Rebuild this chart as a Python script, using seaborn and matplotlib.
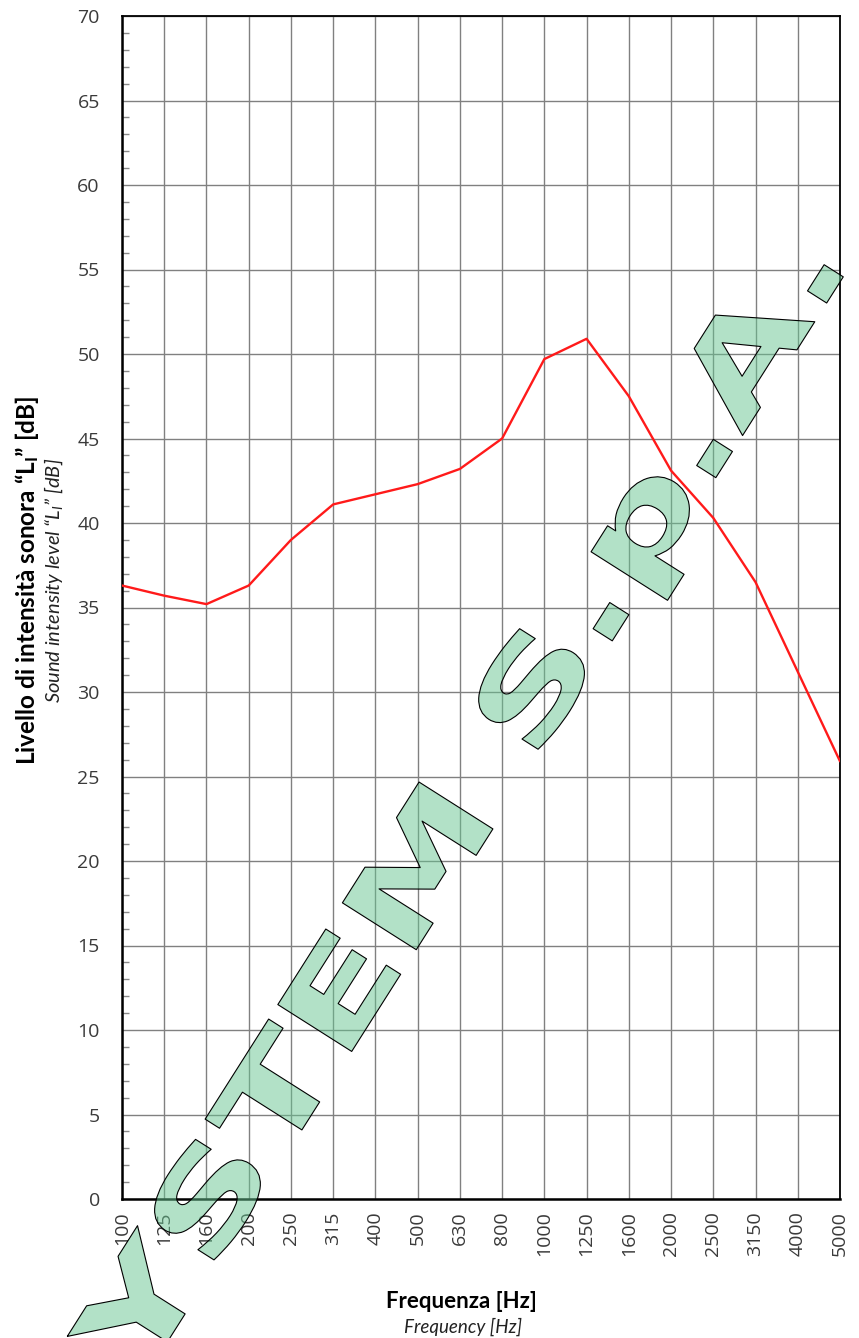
import numpy as np
import pandas as pd
import matplotlib
matplotlib.use("Agg")
import matplotlib.pyplot as plt
import matplotlib.colors as mcolors
from matplotlib.patheffects import AbstractPathEffect
from matplotlib.transforms import Affine2D
from matplotlib.textpath import TextPath
from matplotlib.font_manager import FontProperties
from matplotlib.ticker import MultipleLocator
import seaborn as sns

# ---------------- data ----------------
freqs = ["100", "125", "160", "200", "250", "315", "400", "500", "630", "800",
         "1000", "1250", "1600", "2000", "2500", "3150", "4000", "5000"]
levels = [36.3, 35.7, 35.2, 36.3, 39.0, 41.1, 41.7, 42.3, 43.2, 45.0,
          49.7, 50.9, 47.5, 43.1, 40.3, 36.5, 31.2, 25.9]
y_ticks = list(range(0, 75, 5))

ylabel_main = "Livello di intensità sonora “L$_{\\mathbf{I}}$” [dB]"
ylabel_sub = "Sound intensity level “L$_{\\mathit{I}}$” [dB]"
xlabel_main = "Frequenza [Hz]"
xlabel_sub = "Frequency [Hz]"
watermark = "SYSTEM S.p.A."

# ---------------- style ----------------
sns.set_style("white")
plt.rcParams["font.family"] = ["Open Sans", "DejaVu Sans"]
plt.rcParams["mathtext.fontset"] = "custom"
plt.rcParams["mathtext.rm"] = "Lato"
plt.rcParams["mathtext.bf"] = "Lato:bold"
plt.rcParams["mathtext.it"] = "Lato:italic"

W, H = 859, 1338
fig = plt.figure(figsize=(W / 100, H / 100), dpi=100)
ax = fig.add_axes([122 / W, 139 / H, (840 - 122) / W, (1199 - 16) / H])

df = pd.DataFrame({"freq": freqs, "level": levels})
sns.lineplot(data=df, x="freq", y="level", sort=False, color="#ff1a1a",
             linewidth=1.7, ax=ax, zorder=5)

ax.set_xlim(0, len(freqs) - 1)
ax.set_ylim(0, 70)
ax.set_yticks(y_ticks)
ax.set_xticks(range(len(freqs)))
ax.set_xticklabels(freqs, rotation=90)
ax.yaxis.set_minor_locator(MultipleLocator(1))
ax.set_xlabel("")
ax.set_ylabel("")

ax.grid(True, which="major", axis="both", color="#808080", linewidth=1.0)
ax.set_axisbelow(True)
ax.tick_params(axis="both", which="major", length=0, labelsize=14,
               labelcolor="#3a3a3a")
ax.tick_params(axis="y", which="major", pad=16)
ax.tick_params(axis="x", which="major", pad=9)
ax.tick_params(axis="y", which="minor", direction="in", length=5, width=1,
               color="#8a8a8a", left=True, right=False)
for side, sp in ax.spines.items():
    sp.set_visible(True)
    sp.set_color("black")
    sp.set_linewidth(1.8 if side in ("left", "bottom") else 1.3)

# axis labels (two lines each)
fig.text(27 / W, (H - 580) / H, ylabel_main, rotation=90, ha="center",
         va="center", fontsize=17.5, fontweight="bold", family="Lato",
         color="black")
fig.text(54 / W, (H - 580) / H, ylabel_sub, rotation=90, ha="center",
         va="center", fontsize=14.5, fontstyle="italic", family="Lato",
         color="#222222")
fig.text(461 / W, (H - 1302) / H, xlabel_main, ha="center", va="center",
         fontsize=16, fontweight="bold", family="Lato", color="black")
fig.text(463 / W, (H - 1327) / H, xlabel_sub, ha="center", va="center",
         fontsize=13.5, fontstyle="italic", family="Lato", color="#222222")


# ---------------- watermark ----------------
class StretchedOutline(AbstractPathEffect):
    def __init__(self, sx, face, alpha, edge, lw):
        super().__init__()
        self.sx, self.face, self.alpha, self.edge, self.lw = sx, face, alpha, edge, lw

    def draw_path(self, renderer, gc, tpath, affine, rgbFace=None):
        aff = Affine2D().scale(self.sx, 1.0) + affine
        g1 = renderer.new_gc()
        g1.copy_properties(gc)
        g1.set_linewidth(0)
        g1.set_alpha(self.alpha)
        g1.set_foreground(self.face)
        renderer.draw_path(g1, tpath, aff, mcolors.to_rgba(self.face))
        g1.restore()
        g2 = renderer.new_gc()
        g2.copy_properties(gc)
        g2.set_alpha(1.0)
        g2.set_linewidth(self.lw)
        g2.set_foreground(self.edge)
        renderer.draw_path(g2, tpath, aff, None)
        g2.restore()


wm_prop = FontProperties(family="DejaVu Sans", weight="bold")
em_px = 120.0
sx = 1.47
ang = 57.6
u = np.array([np.cos(np.radians(ang)), np.sin(np.radians(ang))])
tp_syst = TextPath((0, 0), "SYST", size=1, prop=wm_prop).get_extents()
tp_t = TextPath((0, 0), "T", size=1, prop=wm_prop).get_extents()
t_left_em = tp_syst.x1 - (tp_t.x1 - tp_t.x0)
P_T = np.array([279.0, H - 1166.0])  # T left at baseline (display px)
origin = P_T - sx * t_left_em * em_px * u

fig.text(origin[0] / W, origin[1] / H, watermark, fontproperties=wm_prop,
         fontsize=em_px * 72 / 100, rotation=ang, rotation_mode="anchor",
         ha="left", va="baseline", zorder=10, clip_on=False,
         path_effects=[StretchedOutline(sx, "#67c591", 0.5, "black", 0.8)])

fig.savefig("out.png", dpi=100)
